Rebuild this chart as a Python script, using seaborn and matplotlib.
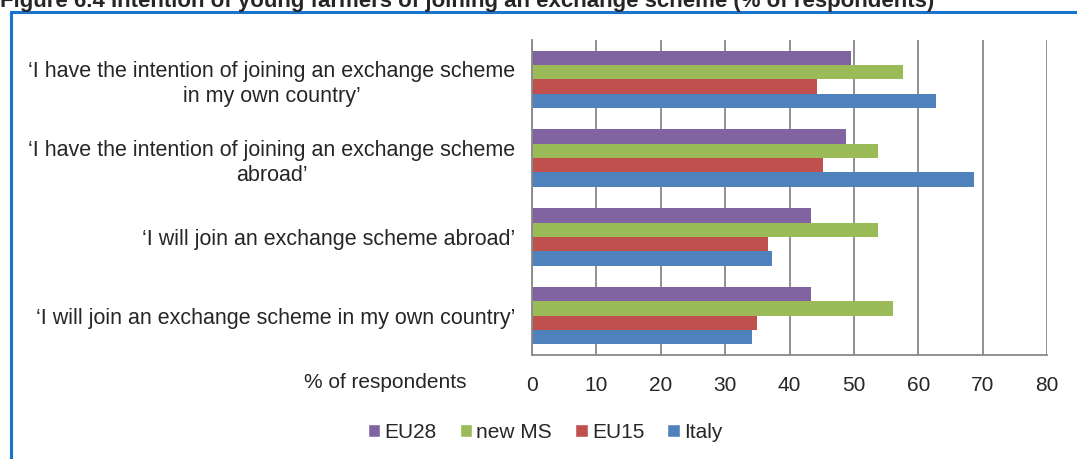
import matplotlib
matplotlib.use('Agg')
import matplotlib.pyplot as plt
import numpy as np
import pandas as pd
import seaborn as sns
from matplotlib.patches import Patch, Rectangle

# values (% of respondents)
statements = [
    '\u2018I have the intention of joining an exchange scheme\nin my own country\u2019',
    '\u2018I have the intention of joining an exchange scheme\nabroad\u2019',
    '\u2018I will join an exchange scheme abroad\u2019',
    '\u2018I will join an exchange scheme in my own country\u2019',
]
groups = ['EU28', 'new MS', 'EU15', 'Italy']
eu28 = [49.6, 48.7, 43.4, 43.4]
new_ms = [57.6, 53.7, 53.7, 56.1]
eu15 = [44.3, 45.2, 36.7, 35.0]
italy = [62.7, 68.6, 37.3, 34.2]
colors = ['#8064A2', '#9BBB59', '#C0504D', '#4F81BD']


def main():
    rows = []
    for name, vals in zip(groups, [eu28, new_ms, eu15, italy]):
        for s, v in zip(statements, vals):
            rows.append({'statement': s, 'group': name, 'value': v})
    df = pd.DataFrame(rows)

    sns.set_style('white')
    plt.rcParams['font.family'] = ['Liberation Sans', 'DejaVu Sans']

    fig = plt.figure(figsize=(10.77, 4.59), dpi=100)
    ax = fig.add_axes([532 / 1077, 1 - 355 / 459, (1047 - 532) / 1077, (355 - 40) / 459])

    sns.barplot(data=df, x='value', y='statement', hue='group', order=statements,
                hue_order=groups, palette=colors, orient='h', width=0.73,
                saturation=1, linewidth=0, ax=ax, legend=False)

    ax.set_xlim(0, 80)
    ax.set_ylim(3.5, -0.5)
    ax.set_xticks(np.arange(0, 81, 10))
    ax.grid(axis='x', color='#888888', linewidth=1.3)
    ax.grid(axis='y', visible=False)
    ax.set_axisbelow(True)
    ax.set_xlabel('')
    ax.set_ylabel('')

    for side in ['top', 'right']:
        ax.spines[side].set_visible(False)
    for side in ['left', 'bottom']:
        ax.spines[side].set_color('#888888')
        ax.spines[side].set_linewidth(1.3)

    # ticks between categories, like the spreadsheet original
    ax.set_yticks(np.arange(-0.5, 4, 1), minor=True)
    ax.tick_params(axis='y', which='major', length=0, labelsize=15.5, pad=12)
    ax.tick_params(axis='y', which='minor', length=5, color='#888888', width=1.3)
    ax.tick_params(axis='x', length=5, color='#888888', width=1.3, labelsize=15, pad=10)
    for lab in ax.get_yticklabels():
        lab.set_multialignment('center')
        lab.set_linespacing(1.25)

    fig.text(467 / 1077, 1 - 383 / 459, '% of respondents', ha='right', va='center', fontsize=15)

    handles = [Patch(facecolor=c, label=g) for c, g in zip(colors, groups)]
    fig.legend(handles=handles, loc='center', bbox_to_anchor=(545 / 1077, 1 - 432 / 459),
               ncol=4, frameon=False, fontsize=15, handlelength=0.6, handleheight=0.6,
               handletextpad=0.2, columnspacing=1.1)

    fig.text(0.0, 1 - 7 / 459, 'Figure 6.4 Intention of young farmers of joining an exchange scheme (% of respondents)',
             ha='left', va='baseline', fontsize=16, fontweight='bold')

    fig.patches.append(Rectangle((11 / 1077, -0.1), 1.2, 1.1 - 12 / 459, transform=fig.transFigure,
                                 fill=False, edgecolor='#1874CD', linewidth=2.2))

    fig.savefig('out.png', dpi=100)


if __name__ == '__main__':
    main()
